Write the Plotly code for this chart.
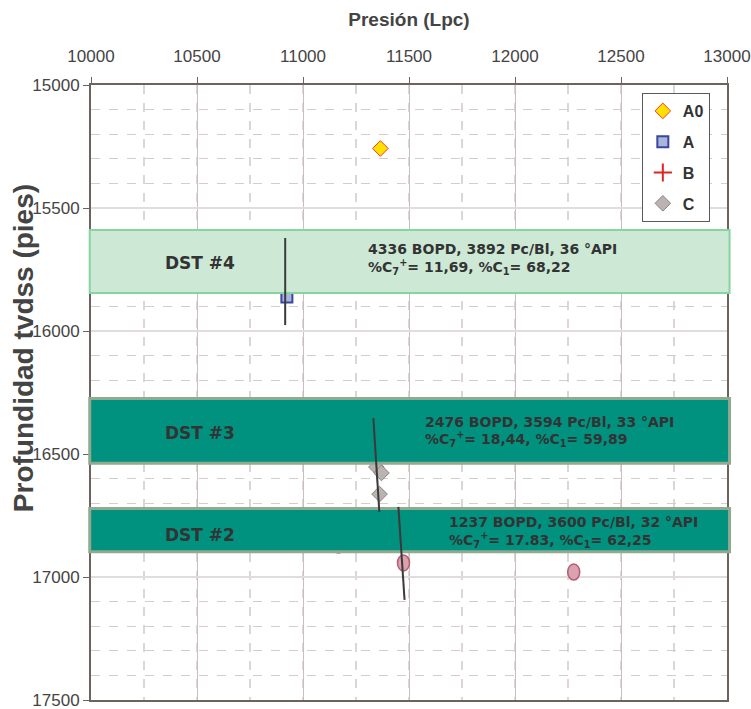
import plotly.graph_objects as go

# ---------------- data ----------------
a0_p = [11365]
a0_d = [15258]
a_p = [10924]
a_d = [15862]
b_p = [None]
b_d = [None]
c_p = [11346, 11370, 11361]
c_d = [16553, 16577, 16663]
d_p = [11167, 11474, 12277]
d_d = [16870, 16943, 16980]

dst_names = ["DST #4", "DST #3", "DST #2"]
dst_top = [15589, 16274, 16722]
dst_base = [15846, 16538, 16897]
dst_line1 = ["4336 BOPD, 3892 Pc/Bl, 36 °API",
             "2476 BOPD, 3594 Pc/Bl, 33 °API",
             "1237 BOPD, 3600 Pc/Bl, 32 °API"]
dst_line2 = ["%C<sub>7</sub><sup>+</sup>= 11,69, %C<sub>1</sub>= 68,22",
             "%C<sub>7</sub><sup>+</sup>= 18,44, %C<sub>1</sub>= 59,89",
             "%C<sub>7</sub><sup>+</sup>= 17.83, %C<sub>1</sub>= 62,25"]

trend_p_start = [10916, 11332, 11450]
trend_d_start = [15622, 16354, 16715]
trend_p_end = [10916, 11360, 11479]
trend_d_end = [15976, 16736, 17093]

x_ticks = [10000, 10500, 11000, 11500, 12000, 12500, 13000]
y_ticks = [15000, 15500, 16000, 16500, 17000, 17500]

# ---------------- layout positions (text placement) ----------------
label_x = 10515
label_y = [15724, 16415, 16829]
info_x = [11299, 11568, 11677]
info_y1 = [15667, 16370, 16776]
info_y2 = [15740, 16439, 16850]

SANS = "Liberation Sans, Arial, sans-serif"
BOLD_TXT = "DejaVu Sans, Verdana, sans-serif"

fig = go.Figure()

fig.add_trace(go.Scatter(x=a0_p, y=a0_d, mode="markers", name="A0", legendgroup="A0",
                         marker=dict(symbol="diamond", size=12, color="#ffe000",
                                     line=dict(color="#ff3b1f", width=1))))
fig.add_trace(go.Scatter(x=a_p, y=a_d, mode="markers", name="A", legendgroup="A",
                         marker=dict(symbol="square", size=11, color="#a9b5dc",
                                     line=dict(color="#3a46a0", width=2))))
fig.add_trace(go.Scatter(x=b_p, y=b_d, mode="markers", name="B", legendgroup="B",
                         marker=dict(symbol="cross-thin", size=13, color="#e02424",
                                     line=dict(color="#e02424", width=2))))
fig.add_trace(go.Scatter(x=c_p, y=c_d, mode="markers", name="C", legendgroup="C",
                         marker=dict(symbol="diamond", size=12, color="#bbb3b1",
                                     line=dict(color="#8c8482", width=1))))

shapes = []
# D points drawn as ellipses anchored at data coordinates
for p, d in zip(d_p, d_d):
    shapes.append(dict(type="circle", xref="x", yref="y", xsizemode="pixel", ysizemode="pixel",
                       xanchor=p, yanchor=d, x0=-6, x1=6, y0=-8, y1=8,
                       fillcolor="#d8a3ae", line=dict(color="#b95a73", width=1.5), layer="above"))

# DST bands
band_fill = ["#cde9d6", "#00917f", "#00917f"]
band_line = ["#86d4a2", "#8faa90", "#8faa90"]
band_w = [2, 3, 3]
for i in range(len(dst_names)):
    shapes.append(dict(type="rect", xref="paper", yref="y", x0=-0.002, x1=1.004,
                       y0=dst_top[i], y1=dst_base[i], fillcolor=band_fill[i],
                       line=dict(color=band_line[i], width=band_w[i]),
                       layer="above"))

# trend lines
for i in range(len(trend_p_start)):
    shapes.append(dict(type="line", xref="x", yref="y",
                       x0=trend_p_start[i], y0=trend_d_start[i],
                       x1=trend_p_end[i], y1=trend_d_end[i],
                       line=dict(color="#3a3a3a", width=2), layer="above"))

annotations = []
for i in range(len(dst_names)):
    annotations.append(dict(x=label_x, y=label_y[i], xref="x", yref="y", text=dst_names[i],
                            showarrow=False, xanchor="center", yanchor="middle",
                            font=dict(family=BOLD_TXT, size=17, color="#333333", weight="bold")))
    annotations.append(dict(x=info_x[i], y=info_y1[i], xref="x", yref="y", text=dst_line1[i],
                            showarrow=False, xanchor="left", yanchor="middle",
                            font=dict(family=BOLD_TXT, size=14, color="#333333", weight="bold")))
    annotations.append(dict(x=info_x[i], y=info_y2[i], xref="x", yref="y", text=dst_line2[i],
                            showarrow=False, xanchor="left", yanchor="middle",
                            font=dict(family=BOLD_TXT, size=14, color="#333333", weight="bold")))

# y-axis title as rotated text (placed as in the reference, above centre)
annotations.append(dict(x=-0.107, y=0.572, xref="paper", yref="paper",
                        text="<b>Profundidad tvdss (pies)</b>", textangle=-90,
                        showarrow=False, xanchor="center", yanchor="middle",
                        font=dict(family=SANS, size=28, color="#444444")))

fig.update_layout(
    width=751, height=709,
    margin=dict(l=91, r=24, t=85, b=9, autoexpand=False),
    paper_bgcolor="white", plot_bgcolor="white",
    shapes=shapes, annotations=annotations,
    showlegend=True,
    legend=dict(x=0.973, y=0.987, xanchor="right", yanchor="top",
                bgcolor="white", bordercolor="#5a5a5a", borderwidth=1,
                traceorder="grouped", tracegroupgap=7, itemwidth=30,
                font=dict(family=SANS, size=16, color="#333333", weight="bold")),
    xaxis=dict(side="top", range=[10000, 13000], tickvals=x_ticks,
               ticktext=[str(v) for v in x_ticks],
               tickfont=dict(family=SANS, size=17, color="#444444"),
               ticks="outside", ticklen=6, tickcolor="#6e625e",
               ticklabelstandoff=8, ticklabeloverflow="allow",
               showline=True, linecolor="#6e625e", linewidth=2, mirror=True,
               showgrid=True, gridcolor="#c9bfbf", gridwidth=1,
               minor=dict(dtick=250, tick0=10000, showgrid=True, griddash="dash",
                          gridcolor="#ddd6d6", gridwidth=2),
               zeroline=False,
               title=dict(text="<b>Presión (Lpc)</b>", standoff=16,
                          font=dict(family=SANS, size=19, color="#444444"))),
    yaxis=dict(range=[17500, 15000], tickvals=y_ticks,
               ticktext=[str(v) for v in y_ticks],
               tickfont=dict(family=SANS, size=17, color="#444444"),
               ticks="outside", ticklen=6, tickcolor="#6e625e",
               ticklabeloverflow="allow",
               showline=True, linecolor="#6e625e", linewidth=2, mirror=True,
               showgrid=True, gridcolor="#e2dddd", gridwidth=2,
               minor=dict(dtick=100, tick0=15000, showgrid=True, griddash="dash",
                          gridcolor="#d6cccc", gridwidth=1),
               zeroline=False),
)

fig.write_html("out.html", config={"displayModeBar": False},
               post_script="document.body.style.margin='0px';document.body.style.padding='0px';document.body.style.overflow='hidden';")
